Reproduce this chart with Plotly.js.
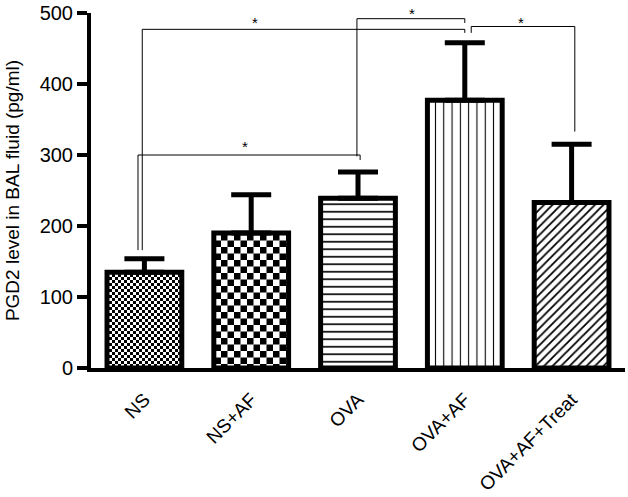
<!DOCTYPE html>
<html>
<head>
<meta charset="utf-8">
<script src="https://cdn.plot.ly/plotly-3.0.1.min.js"></script>
<style>
  html, body { margin: 0; padding: 0; background: #fff; }
  #chart { width: 628px; height: 497px; }
</style>
</head>
<body>
<div id="chart"></div>
<script>
// ---- data ----
const categories = ['NS', 'NS+AF', 'OVA', 'OVA+AF', 'OVA+AF+Treat'];
const meanPGD2 = [135, 190, 239, 377, 233];
const errPGD2 = [19, 54, 37, 81, 82];
const yTickVals = [0, 100, 200, 300, 400, 500];

// significance brackets (pairs of groups, heights in pg/ml)
const sigLeft = ['NS', 'OVA', 'OVA+AF', 'NS'];
const sigRight = ['OVA+AF', 'OVA+AF', 'OVA+AF+Treat', 'OVA'];
const sigTop = [477, 492, 481, 300];
const sigLeftEnd = [166, 298, 472, 166];
const sigRightEnd = [472, 486, 333, 293];
const sigStarY = [486, 499, 486, 312];
const sigLabel = ['*', '*', '*', '*'];

// ---- styling ----
const legShiftL = [-0.02, -0.01, 0.06, -0.06];
const legShiftR = [0.0, 0.0, 0.03, 0.02];
const starShift = [-0.46, 0.01, 0.03, -0.06];
const patShape = ['.', '.', '-', '|', '/'];
const patSize = [6, 13, 7.5, 8.3, 6];
const patSolid = [0.5, 0.5, 0.22, 0.13, 0.3];

const idx = categories.map((c, i) => i);
const ci = name => categories.indexOf(name);

const font = 'Liberation Sans, Arial, Helvetica, sans-serif';

const trace = {
  type: 'bar',
  x: idx,
  y: meanPGD2,
  width: 0.7,
  marker: {
    color: '#ffffff',
    line: { color: '#000000', width: 5 },
    pattern: {
      shape: patShape,
      size: patSize,
      solidity: patSolid,
      fgcolor: '#000000',
      bgcolor: '#ffffff',
      fillmode: 'replace'
    }
  },
  error_y: {
    type: 'data',
    symmetric: false,
    array: errPGD2,
    arrayminus: errPGD2.map(() => 0),
    color: '#000000',
    thickness: 5,
    width: 20
  },
  showlegend: false,
  hoverinfo: 'none'
};

const shapes = [];
const annotations = [];
sigLeft.forEach((l, k) => {
  const xl = ci(l) + legShiftL[k];
  const xr = ci(sigRight[k]) + legShiftR[k];
  const ln = { color: '#000000', width: 1 };
  shapes.push({ type: 'line', xref: 'x', yref: 'y', x0: xl, x1: xl, y0: sigLeftEnd[k], y1: sigTop[k], line: ln });
  shapes.push({ type: 'line', xref: 'x', yref: 'y', x0: xl, x1: xr, y0: sigTop[k], y1: sigTop[k], line: ln });
  shapes.push({ type: 'line', xref: 'x', yref: 'y', x0: xr, x1: xr, y0: sigTop[k], y1: sigRightEnd[k], line: ln });
  annotations.push({
    xref: 'x', yref: 'y',
    x: (ci(l) + ci(sigRight[k])) / 2 + starShift[k],
    y: sigStarY[k],
    text: sigLabel[k],
    showarrow: false,
    yanchor: 'middle',
    yshift: 0,
    font: { family: font, size: 15, color: '#000000' }
  });
});

const layout = {
  width: 628,
  height: 497,
  margin: { l: 91, r: 3, t: 13, b: 129 },
  paper_bgcolor: '#ffffff',
  plot_bgcolor: '#ffffff',
  font: { family: font, color: '#000000' },
  showlegend: false,
  xaxis: {
    type: 'linear',
    range: [-0.5, 4.5],
    tickvals: idx,
    ticktext: categories,
    tickangle: -45,
    ticks: 'outside',
    ticklen: 9,
    tickcolor: 'rgba(0,0,0,0)',
    showline: true,
    linewidth: 4,
    linecolor: '#000000',
    showgrid: false,
    zeroline: false,
    tickfont: { family: font, size: 19, color: '#000000' },
    fixedrange: true
  },
  xaxis2: {
    overlaying: 'x',
    anchor: 'y',
    side: 'bottom',
    type: 'linear',
    range: [-0.5, 4.5],
    tickvals: [ci('OVA')],
    ticks: 'outside',
    ticklen: 10,
    tickwidth: 4,
    tickcolor: '#000000',
    showticklabels: false,
    showline: false,
    showgrid: false,
    zeroline: false
  },
  yaxis: {
    range: [0, 500],
    tickvals: yTickVals,
    ticks: 'outside',
    ticklen: 10,
    tickwidth: 4,
    tickcolor: '#000000',
    showline: true,
    linewidth: 4,
    linecolor: '#000000',
    showgrid: false,
    zeroline: false,
    tickfont: { family: font, size: 20, color: '#000000' },
    title: { text: 'PGD2 level in BAL fluid (pg/ml)', font: { family: font, size: 19, color: '#000000' }, standoff: 16 },
    fixedrange: true
  },
  shapes: shapes,
  annotations: annotations
};

Plotly.newPlot('chart', [trace], layout, { displayModeBar: false, staticPlot: true }).then(gd => {
  // turn the dot tiles into checkerboard tiles
  const ns = 'http://www.w3.org/2000/svg';
  gd.querySelectorAll('pattern').forEach(p => {
    const c = p.querySelector('circle');
    if (!c) return;
    const s = parseFloat(p.getAttribute('width'));
    while (p.firstChild) p.removeChild(p.firstChild);
    const mk = (x, y, w, h, f) => {
      const r = document.createElementNS(ns, 'rect');
      r.setAttribute('x', x); r.setAttribute('y', y);
      r.setAttribute('width', w); r.setAttribute('height', h);
      r.setAttribute('fill', f);
      p.appendChild(r);
    };
    mk(0, 0, s, s, '#ffffff');
    mk(0, 0, s / 2, s / 2, '#000000');
    mk(s / 2, s / 2, s / 2, s / 2, '#000000');
  });
});
</script>
</body>
</html>
